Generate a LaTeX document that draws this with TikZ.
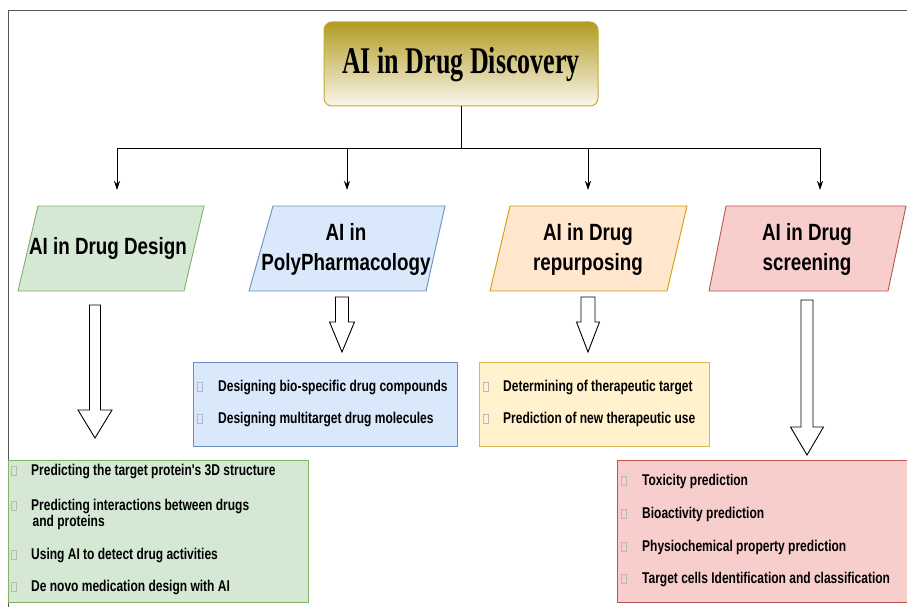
\documentclass[tikz,border=0pt]{standalone}
\usepackage{fontspec}
\setmainfont{Liberation Serif}
\newfontfamily\arialfont{Liberation Sans}
\usepackage{graphicx}
\usetikzlibrary{arrows.meta}

\definecolor{frameline}{HTML}{555555}
\definecolor{titletop}{HTML}{B19C22}
\definecolor{titlebot}{HTML}{FBF6EC}
\definecolor{titleline}{HTML}{C8A92E}
\definecolor{greenfill}{HTML}{D5E8D4}
\definecolor{greenline}{HTML}{82B366}
\definecolor{bluefill}{HTML}{DAE8FC}
\definecolor{blueline}{HTML}{6C8EBF}
\definecolor{orangefill}{HTML}{FFE6CC}
\definecolor{orangeline}{HTML}{D79B00}
\definecolor{redfill}{HTML}{F8CECC}
\definecolor{redline}{HTML}{B85450}
\definecolor{yellowfill}{HTML}{FFF2CC}
\definecolor{yellowline}{HTML}{D6B656}

% tall, narrow lettering
\newcommand\headtext[1]{\scalebox{1}[1.25]{\arialfont\bfseries\fontsize{18.8}{24}\selectfont
  \begin{tabular}{@{}c@{}}#1\end{tabular}}}
\newcommand\itemtext[1]{\scalebox{1}[1.3]{\arialfont\bfseries\fontsize{12}{12.4}\selectfont
  \begin{tabular}{@{}l@{}}#1\end{tabular}}}

% hollow block arrow: x, top, neck, tip, half shaft, half head
\newcommand\hollowarrow[6]{%
  \draw[blockarrow] (#1-#5,#2) -- (#1+#5,#2) -- (#1+#5,#3) -- (#1+#6,#3)
    -- (#1,#4) -- (#1-#6,#3) -- (#1-#5,#3) -- cycle;}

\tikzset{
  hub/.style={line width=0.8pt, -{Stealth[length=9pt,width=6pt]}},
  blockarrow/.style={draw=black, line width=0.9pt, fill=white, line join=miter},
  panel/.style={line width=0.9pt},
  bulletbox/.style={draw=gray!55, line width=0.5pt, minimum width=5pt,
    minimum height=9pt, inner sep=0pt},
  item/.style={anchor=west, inner sep=0pt},
}

\begin{document}
\begin{tikzpicture}[x=1pt,y=-1pt]
\useasboundingbox (0,0) rectangle (907,607);

% outer frame
\draw[frameline, line width=0.8pt] (8,607) -- (8,10) -- (907,10);

% title
\shade[top color=titletop, bottom color=titlebot, draw=titleline, line width=1pt,
  rounded corners=8pt] (324,22) rectangle (598,106);
\node (title) at (461,65) {\scalebox{1}[1.45]{\fontsize{26}{30}\selectfont\bfseries AI in Drug Discovery}};
\coordinate (titlebase) at (461,106);

% distribution lines
\coordinate (split) at (461,148);
\coordinate (t1) at (117,190);
\coordinate (t2) at (347,190);
\coordinate (t3) at (588,190);
\coordinate (t4) at (820,190);
\draw[line width=0.8pt] (titlebase) -- (split);
\draw[line width=0.8pt] (t1 |- split) -- (t4 |- split);
\foreach \t in {t1,t2,t3,t4}
  \draw[hub] (\t |- split) -- (\t);

% category parallelograms
\draw[panel, fill=greenfill, draw=greenline] (38,206) -- (204,206) -- (184,291) -- (18,291) -- cycle;
\node (design) at (108,248) {\headtext{AI in Drug Design}};
\draw[panel, fill=bluefill, draw=blueline] (273,206) -- (445,206) -- (426,291) -- (249,291) -- cycle;
\node (poly) at (346,249) {\headtext{AI in\\PolyPharmacology}};
\draw[panel, fill=orangefill, draw=orangeline] (510,206) -- (687,206) -- (667,291) -- (490,291) -- cycle;
\node (repurp) at (588,249) {\headtext{AI in Drug\\repurposing}};
\draw[panel, fill=redfill, draw=redline] (726,206) -- (906,206) -- (888,291) -- (709,291) -- cycle;
\node (screen) at (807,249) {\headtext{AI in Drug\\screening}};

% hollow arrows
\hollowarrow{95}{305}{410}{438}{5.5}{17}
\hollowarrow{342}{297}{322}{352}{6.5}{12.5}
\hollowarrow{588}{297}{322}{352}{7}{11.5}
\hollowarrow{807}{300}{427}{455}{6}{16.5}

% polypharmacology details
\draw[panel, fill=bluefill, draw=blueline] (193,362) rectangle (457,446);
\node[bulletbox] (pb1) at (200,387) {};
\node[item] (p1) at (218,388) {\itemtext{Designing bio-specific drug compounds}};
\node[bulletbox] (pb2) at (200,419) {};
\node[item] (p2) at (218,420) {\itemtext{Designing multitarget drug molecules}};

% repurposing details
\draw[panel, fill=yellowfill, draw=yellowline] (479,362) rectangle (709,446);
\node[bulletbox] (rb1) at (486,387) {};
\node[item] (r1) at (503,388) {\itemtext{Determining of therapeutic target}};
\node[bulletbox] (rb2) at (486,419) {};
\node[item] (r2) at (503,420) {\itemtext{Prediction of new therapeutic use}};

% design details
\draw[panel, fill=greenfill, draw=greenline] (8,460) rectangle (308,602);
\node[bulletbox] (db1) at (14,471) {};
\node[item] (d1) at (31,472) {\itemtext{Predicting the target protein's 3D structure}};
\node[bulletbox] (db2) at (14,506) {};
\node[item] (d2) at (31,515) {\itemtext{Predicting interactions between drugs\\\hspace{1.5pt}and proteins}};
\node[bulletbox] (db3) at (14,555) {};
\node[item] (d3) at (31,556) {\itemtext{Using AI to detect drug activities}};
\node[bulletbox] (db4) at (14,587) {};
\node[item] (d4) at (31,588) {\itemtext{De novo medication design with AI}};

% screening details
\draw[panel, fill=redfill, draw=redline] (617,460) rectangle (907,602);
\node[bulletbox] (sb1) at (624,481) {};
\node[item] (s1) at (642,482) {\itemtext{Toxicity prediction}};
\node[bulletbox] (sb2) at (624,514) {};
\node[item] (s2) at (642,515) {\itemtext{Bioactivity prediction}};
\node[bulletbox] (sb3) at (624,547) {};
\node[item] (s3) at (642,548) {\itemtext{Physiochemical property prediction}};
\node[bulletbox] (sb4) at (624,579) {};
\node[item] (s4) at (642,580) {\itemtext{Target cells Identification and classification}};
\end{tikzpicture}
\end{document}
